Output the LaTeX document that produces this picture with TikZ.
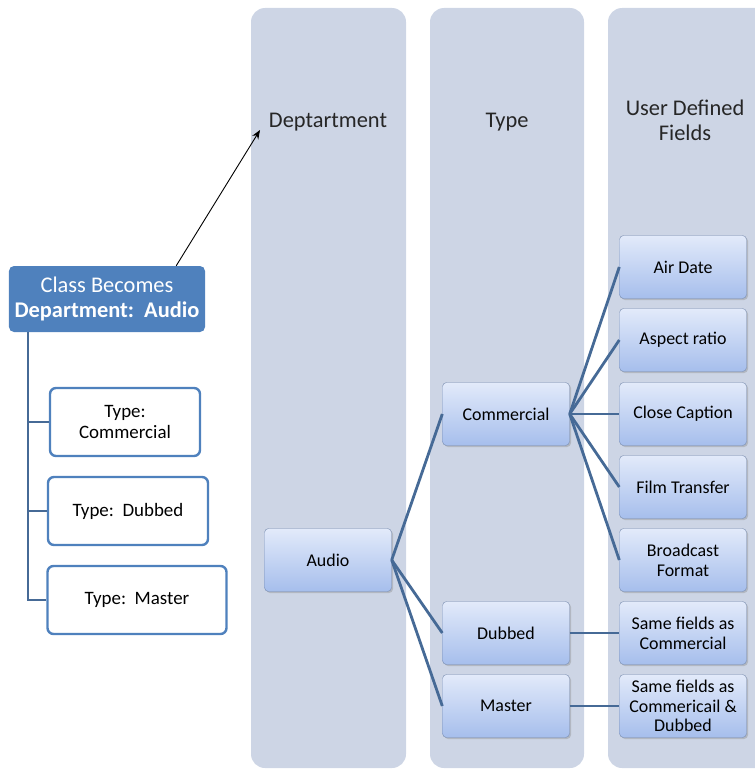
\documentclass[tikz,border=0pt]{standalone}
\usepackage{fontspec}
\setmainfont{Carlito}
\usetikzlibrary{shadows,arrows.meta}
\definecolor{lanebg}{RGB}{205,213,229}
\definecolor{classblue}{RGB}{79,129,189}
\definecolor{linkblue}{RGB}{70,106,150}
\definecolor{boxtop}{RGB}{226,234,250}
\definecolor{boxbot}{RGB}{166,190,236}
\definecolor{boxedge}{RGB}{120,140,175}
\tikzset{
  lane/.style={fill=lanebg, rounded corners=14bp},
  lanehead/.style={align=center, font=\fontsize{22.5}{25}\selectfont, text=black!85},
  field/.style={draw=boxedge, rounded corners=4bp, top color=boxtop, bottom color=boxbot,
    minimum width=127bp, minimum height=63bp, align=center,
    font=\fontsize{18}{20}\selectfont, drop shadow={opacity=0.35, shadow xshift=1.5bp, shadow yshift=-1.5bp}},
  typebox/.style={draw=classblue, line width=2.4bp, fill=white, rounded corners=6bp,
    minimum height=68bp, align=center, font=\fontsize{19}{21}\selectfont},
  link/.style={draw=linkblue, line width=2.8bp}
}
\begin{document}
\begin{tikzpicture}[x=1bp,y=-1bp]
    \useasboundingbox (0,0) rectangle (755,772);
    % lanes
    \fill[lane] (251,8) rectangle (406,768);
    \fill[lane] (430,8) rectangle (584,768);
    \fill[lane] (608,8) rectangle (770,768);
    \node[lanehead] (hdept) at (328,122) {Deptartment};
    \node[lanehead] (htype) at (507,122) {Type};
    \node[lanehead] (hudf) at (685,120) {User Defined\\Fields};

    % left side
    \node[fill=classblue, rounded corners=5bp, minimum width=196bp, minimum height=66bp,
      align=center, text=white, font=\fontsize{22.5}{25}\selectfont] (cls) at (107,299)
      {Class Becomes\\\textbf{Department:\ \ Audio}};
    \coordinate (clsout) at ([xshift=-29bp]cls.north east);
    \coordinate (depttip) at (260,130);
    \draw[-{Stealth[length=9bp,width=7bp]}, line width=0.9bp] (clsout) -- (depttip);

    \node[typebox, minimum width=150bp] (tcom) at (125,422) {Type:\\Commercial};
    \node[typebox, minimum width=160bp] (tdub) at (128,511) {Type:\ \ Dubbed};
    \node[typebox, minimum width=179bp] (tmas) at (137,600) {Type:\ \ Master};
    \coordinate (trunk) at (28,332);
    \draw[link] (trunk) |- (tmas.west);
    \draw[link] (trunk |- tcom.west) -- (tcom.west);
    \draw[link] (trunk |- tdub.west) -- (tdub.west);

    % tree
    \node[field] (audio) at (328,560) {Audio};
    \node[field] (com) at (506,414) {Commercial};
    \node[field] (dub) at (506,633) {Dubbed};
    \node[field] (mas) at (506,706) {Master};
    \node[field] (air) at (683,267) {Air Date};
    \node[field] (asp) at (683,340) {Aspect ratio};
    \node[field] (cc) at (683,414) {Close Caption};
    \node[field] (film) at (683,487) {Film Transfer};
    \node[field] (bcast) at (683,560) {Broadcast\\Format};
    \node[field] (samec) at (683,633) {Same fields as\\Commercial};
    \node[field, font=\fontsize{18}{19.5}\selectfont, inner sep=1bp] (samecd) at (683,706) {Same fields as\\Commericail \&\\Dubbed};

    \foreach \t in {com,dub,mas}
      \draw[link] (audio.east) -- (\t.west);
    \foreach \t in {air,asp,cc,film,bcast}
      \draw[link] (com.east) -- (\t.west);
    \draw[link] (dub.east) -- (samec.west);
    \draw[link] (mas.east) -- (samecd.west);
\end{tikzpicture}
\end{document}
